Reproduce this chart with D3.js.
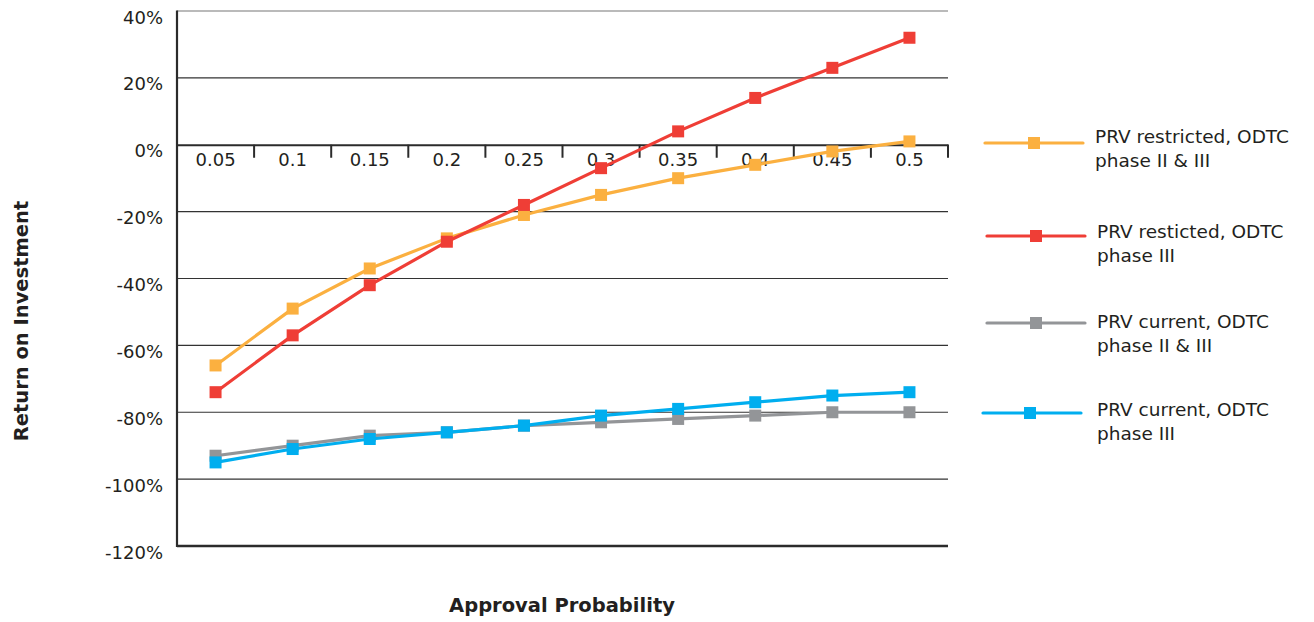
<!DOCTYPE html>
<html>
<head>
<meta charset="utf-8">
<script src="https://cdn.jsdelivr.net/npm/d3@7"></script>
<style>
  html, body { margin: 0; padding: 0; background: #fff; }
  svg { display: block; font-family: "DejaVu Sans", sans-serif; }
</style>
</head>
<body>
<svg id="chart" width="1314" height="622"></svg>
<script>
// Approval probability categories (x axis)
const probabilities = ["0.05", "0.1", "0.15", "0.2", "0.25", "0.3", "0.35", "0.4", "0.45", "0.5"];

// Return on investment (%) for each scenario
const restrictedPhase2and3 = [-66, -49, -37, -28, -21, -15, -10, -6, -2, 1];
const restrictedPhase3     = [-74, -57, -42, -29, -18, -7, 4, 14, 23, 32];
const currentPhase2and3    = [-93, -90, -87, -86, -84, -83, -82, -81, -80, -80];
const currentPhase3        = [-95, -91, -88, -86, -84, -81, -79, -77, -75, -74];

// Y axis ticks
const yTicks = [40, 20, 0, -20, -40, -60, -80, -100, -120];

const seriesNames = [
  ["PRV restricted, ODTC", "phase II & III"],
  ["PRV resticted, ODTC", "phase III"],
  ["PRV current, ODTC", "phase II & III"],
  ["PRV current, ODTC", "phase III"]
];
const seriesColors = ["#FBB040", "#EF3E36", "#939598", "#00AEEF"];
const seriesValues = [restrictedPhase2and3, restrictedPhase3, currentPhase2and3, currentPhase3];

const svg = d3.select("#chart");
const textColor = "#231f20";

const plot = { left: 177, right: 948, top: 11, bottom: 546 };

const x = d3.scaleBand().domain(probabilities).range([plot.left, plot.right]).padding(0);
const y = d3.scaleLinear().domain([-120, 40]).range([plot.bottom, plot.top]);
const cx = i => x(probabilities[i]) + x.bandwidth() / 2;

// Horizontal gridlines
svg.append("g").selectAll("line")
  .data(yTicks.filter(t => t !== 0 && t !== -120))
  .join("line")
  .attr("x1", plot.left).attr("x2", plot.right)
  .attr("y1", d => y(d)).attr("y2", d => y(d))
  .attr("stroke", d => d === 40 ? "#777" : "#333")
  .attr("stroke-width", 1.2);

// Bottom frame line
svg.append("line")
  .attr("x1", plot.left).attr("x2", plot.right)
  .attr("y1", y(-120)).attr("y2", y(-120))
  .attr("stroke", "#2b2b2b").attr("stroke-width", 2.5);

// Left axis line
svg.append("line")
  .attr("x1", plot.left).attr("x2", plot.left)
  .attr("y1", y(40) - 0.5).attr("y2", y(-120) + 1)
  .attr("stroke", "#2b2b2b").attr("stroke-width", 2.2);

// Y tick labels
svg.append("g").selectAll("text")
  .data(yTicks)
  .join("text")
  .attr("x", 163)
  .attr("y", d => y(d) + 12.5)
  .attr("text-anchor", "end")
  .attr("font-size", 18)
  .attr("fill", textColor)
  .text(d => d + "%");

// X axis along zero with ticks at category boundaries
const xAxis = d3.axisBottom(x).tickSize(0);
const xg = svg.append("g").attr("transform", `translate(0,${y(0)})`).call(xAxis);
xg.select(".domain").attr("stroke", "#2b2b2b").attr("stroke-width", 2);
xg.selectAll(".tick text")
  .attr("y", 21.5)
  .attr("dy", 0)
  .attr("font-size", 18)
  .attr("font-family", "\"DejaVu Sans\", sans-serif")
  .attr("fill", textColor);
const boundaries = probabilities.slice(1).map(p => x(p)).concat([plot.right]);
xg.append("g").selectAll("line")
  .data(boundaries)
  .join("line")
  .attr("x1", d => d).attr("x2", d => d)
  .attr("y1", 0).attr("y2", 13)
  .attr("stroke", "#2b2b2b").attr("stroke-width", 2);

// Series lines and square markers
const line = d3.line()
  .x((d, i) => cx(i))
  .y(d => y(d));

const order = [2, 3, 0, 1];
order.forEach(k => {
  const vals = seriesValues[k];
  const g = svg.append("g");
  g.append("path")
    .attr("d", line(vals))
    .attr("fill", "none")
    .attr("stroke", seriesColors[k])
    .attr("stroke-width", 3.2)
    .attr("stroke-linejoin", "round");
  g.selectAll("rect")
    .data(vals)
    .join("rect")
    .attr("x", (d, i) => cx(i) - 6)
    .attr("y", d => y(d) - 6)
    .attr("width", 12).attr("height", 12)
    .attr("fill", seriesColors[k]);
});

// Legend layout: swatch line position, marker centre and text baseline per entry
const legendLayout = [
  { lineY: 143, x1: 985, x2: 1083, mx: 1034, tx: 1095, ty: 143 },
  { lineY: 236, x1: 987, x2: 1085, mx: 1036, tx: 1097, ty: 238 },
  { lineY: 323, x1: 987, x2: 1085, mx: 1036, tx: 1097, ty: 328 },
  { lineY: 413, x1: 983, x2: 1081, mx: 1030, tx: 1097, ty: 416 }
];
const legend = svg.append("g").selectAll("g")
  .data(seriesNames)
  .join("g");
legend.append("line")
  .attr("x1", (d, i) => legendLayout[i].x1).attr("x2", (d, i) => legendLayout[i].x2)
  .attr("y1", (d, i) => legendLayout[i].lineY).attr("y2", (d, i) => legendLayout[i].lineY)
  .attr("stroke", (d, i) => seriesColors[i])
  .attr("stroke-width", 3.2)
  .attr("stroke-linecap", "round");
legend.append("rect")
  .attr("x", (d, i) => legendLayout[i].mx - 6)
  .attr("y", (d, i) => legendLayout[i].lineY - 6)
  .attr("width", 12).attr("height", 12)
  .attr("fill", (d, i) => seriesColors[i]);
legend.each(function (names, i) {
  const L = legendLayout[i];
  d3.select(this).append("text")
    .attr("font-size", 18.5)
    .attr("fill", textColor)
    .selectAll("tspan")
    .data(names)
    .join("tspan")
    .attr("x", L.tx)
    .attr("y", (d, j) => L.ty + j * 23.5)
    .text(d => d);
});

// Axis titles
svg.append("text")
  .attr("transform", "translate(28,321) rotate(-90)")
  .attr("text-anchor", "middle")
  .attr("font-size", 19.5)
  .attr("font-weight", "bold")
  .attr("fill", textColor)
  .text("Return on Investment");

svg.append("text")
  .attr("x", 562).attr("y", 612)
  .attr("text-anchor", "middle")
  .attr("font-size", 19.5)
  .attr("font-weight", "bold")
  .attr("fill", textColor)
  .text("Approval Probability");
</script>
</body>
</html>
